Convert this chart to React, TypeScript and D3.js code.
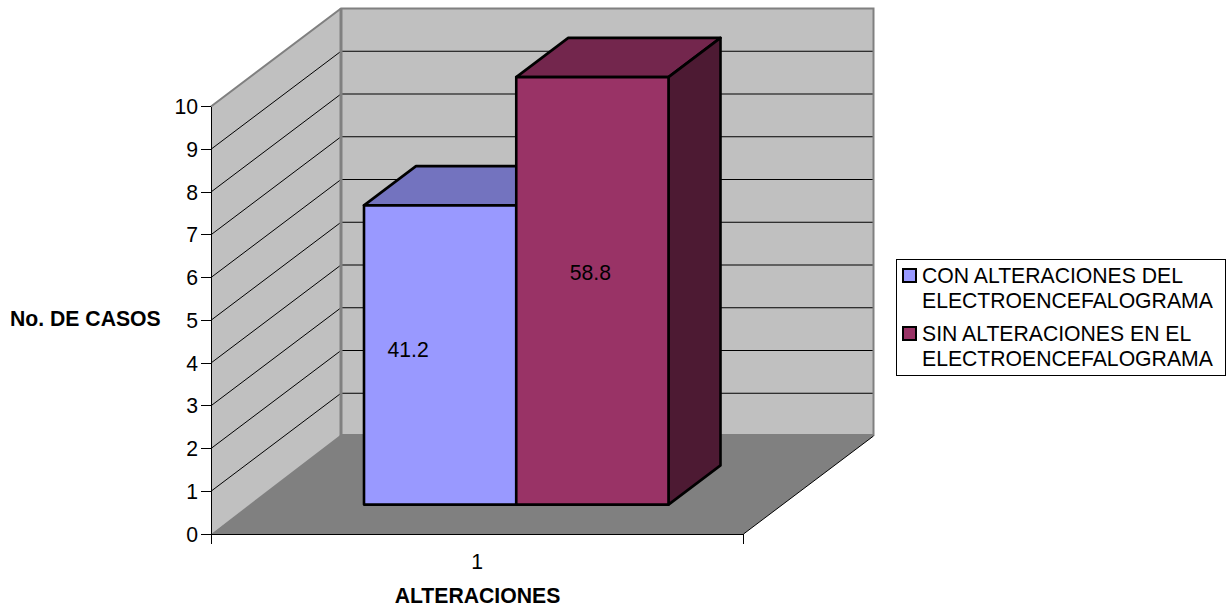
import React from "react";
import * as d3 from "d3";

const categories = ["1"];
const seriesNames = [
  ["CON ALTERACIONES DEL", "ELECTROENCEFALOGRAMA"],
  ["SIN ALTERACIONES EN EL", "ELECTROENCEFALOGRAMA"],
];
const casos = [7, 10];
const porcentajes = ["41.2", "58.8"];
const frontColors = ["#9999ff", "#993366"];
const topColors = ["#7373bf", "#73264d"];
const sideColors = ["#4d4d80", "#4d1a33"];
const yTicks = [0, 1, 2, 3, 4, 5, 6, 7, 8, 9, 10];

const FONT = "'Liberation Sans', Arial, sans-serif";
const FONT_SIZE = 21.2;
const DEPTH_X = 130;
const DEPTH_Y = 98;
// Nudges of the value labels away from the centre of each bar face.
const labelNudge: [number, number][] = [[-32, -5], [-2, -18.5]];

const y = d3.scaleLinear().domain([0, 10]).range([534, 106.5]);
const xCat = d3.scaleBand().domain(categories).range([211, 743.5]);
const xSeries = d3
  .scaleBand<number>()
  .domain(d3.range(casos.length))
  .range([xCat(categories[0])! + 114, xCat(categories[0])! + xCat.bandwidth() - 114]);

// Oblique projection: depth 0 is the front plane, 1 is the back wall.
const project = (px: number, py: number, depth: number): [number, number] => [
  px + DEPTH_X * depth,
  py - DEPTH_Y * depth,
];
const poly = (pts: [number, number][]) => d3.line()(pts)! + "Z";

const BAR_FRONT = 0.3;
const BAR_BACK = 0.7;

export default function App() {
  const [x0, x1] = xCat.range();
  const y0 = y(0);
  const yMax = y(10);
  const wallBottom = y0 - DEPTH_Y;
  const backLeft = x0 + DEPTH_X;
  const backRight = x1 + DEPTH_X;

  return (
    <svg
      width={1228}
      height={608}
      style={{ position: "absolute", left: 0, top: 0, display: "block", background: "#fff" }}
      fontFamily={FONT}
      fontSize={FONT_SIZE}
    >
      {/* Walls */}
      <path d={poly([[x0, y0], project(x0, yMax, 0), project(x0, yMax, 1), project(x0, y0, 1)])} fill="#c0c0c0" />
      <path d={poly([project(x0, yMax, 1), project(x1, yMax, 1), project(x1, y0, 1), project(x0, y0, 1)])} fill="#c0c0c0" />
      {/* Floor, whose back edge sits just above the wall foot */}
      <path
        d={poly([[x0, y0], [x1, y0], [backRight, wallBottom], [backRight, wallBottom - 2], [backLeft, wallBottom - 2], [backLeft - 2, wallBottom]])}
        fill="#808080"
      />

      {/* Gridlines on both walls */}
      {yTicks.filter((t) => t > 0 && t < 10).map((t) => {
        const a = project(x0, y(t), 0);
        const b = project(x0, y(t), 1);
        const c = project(x1, y(t), 1);
        return (
          <g key={t} stroke="#000" strokeWidth={1} fill="none">
            <path d={d3.line()([a, b])!} />
            <path d={d3.line()([b, c])!} />
          </g>
        );
      })}

      {/* Wall outline */}
      <path
        d={d3.line()([[x0, yMax], project(x0, yMax, 1), project(x1, yMax, 1), [backRight, wallBottom]])!}
        fill="none"
        stroke="#808080"
        strokeWidth={2}
      />
      <path
        d={d3.line()([project(x0, yMax, 1), [backLeft, wallBottom]])!}
        fill="none"
        stroke="#808080"
        strokeWidth={3}
      />

      {/* Bars */}
      {casos.map((v, i) => {
        const l = xSeries(i)!;
        const r = l + xSeries.bandwidth();
        const top = y(v);
        const fl = project(l, y0, BAR_FRONT);
        const fr = project(r, y0, BAR_FRONT);
        const tl = project(l, top, BAR_FRONT);
        const tr = project(r, top, BAR_FRONT);
        const btl = project(l, top, BAR_BACK);
        const btr = project(r, top, BAR_BACK);
        const bbr = project(r, y0, BAR_BACK);
        return (
          <g key={i} stroke="#000" strokeWidth={2.6} strokeLinejoin="round">
            <path d={poly([tl, tr, btr, btl])} fill={topColors[i]} />
            <path d={poly([fr, tr, btr, bbr])} fill={sideColors[i]} />
            <path d={poly([fl, fr, tr, tl])} fill={frontColors[i]} />
          </g>
        );
      })}
      {casos.map((v, i) => {
        const l = xSeries(i)!;
        const [cx, cy] = project(l + xSeries.bandwidth() / 2, y(v / 2), BAR_FRONT);
        return (
          <text key={i} x={cx + labelNudge[i][0]} y={cy + labelNudge[i][1] + 7.5} textAnchor="middle" fill="#000">
            {porcentajes[i]}
          </text>
        );
      })}

      {/* Axes */}
      <g stroke="#000" strokeWidth={1} fill="none" shapeRendering="crispEdges">
        <path d={`M${x0},${yMax}V${y0 + 10}`} />
        <path d={`M${x0},${y0}H${x1}`} />
        <path d={`M${x1},${y0}V${y0 + 10}`} />
        {yTicks.map((t) => (
          <path key={t} d={`M${x0 - 10},${y(t)}H${x0}`} />
        ))}
      </g>
      <path
        d={d3.line()([[x1, y0], project(x1, y0, 1)])!}
        stroke="#000"
        strokeWidth={1}
        fill="none"
      />
      {yTicks.map((t) => (
        <text key={t} x={198} y={y(t) + 7.5} textAnchor="end" fill="#000">
          {t}
        </text>
      ))}
      <text x={xCat(categories[0])! + xCat.bandwidth() / 2} y={569} textAnchor="middle" fill="#000">
        {categories[0]}
      </text>

      {/* Axis titles */}
      <text x={10} y={326} fontWeight="bold" fill="#000">
        No. DE CASOS
      </text>
      <text x={477.5} y={603} fontWeight="bold" textAnchor="middle" fill="#000">
        ALTERACIONES
      </text>

      {/* Legend */}
      <rect x={896.5} y={259.5} width={329} height={116} fill="#fff" stroke="#000" strokeWidth={1} shapeRendering="crispEdges" />
      {seriesNames.map((lines, i) => {
        const top = 269 + i * 58;
        return (
          <g key={i}>
            <rect x={903} y={top} width={13} height={13} fill={frontColors[i]} stroke="#000" strokeWidth={2} />
            {lines.map((line, j) => (
              <text key={j} x={922} y={top + 14 + j * 25} fill="#000">
                {line}
              </text>
            ))}
          </g>
        );
      })}
    </svg>
  );
}
